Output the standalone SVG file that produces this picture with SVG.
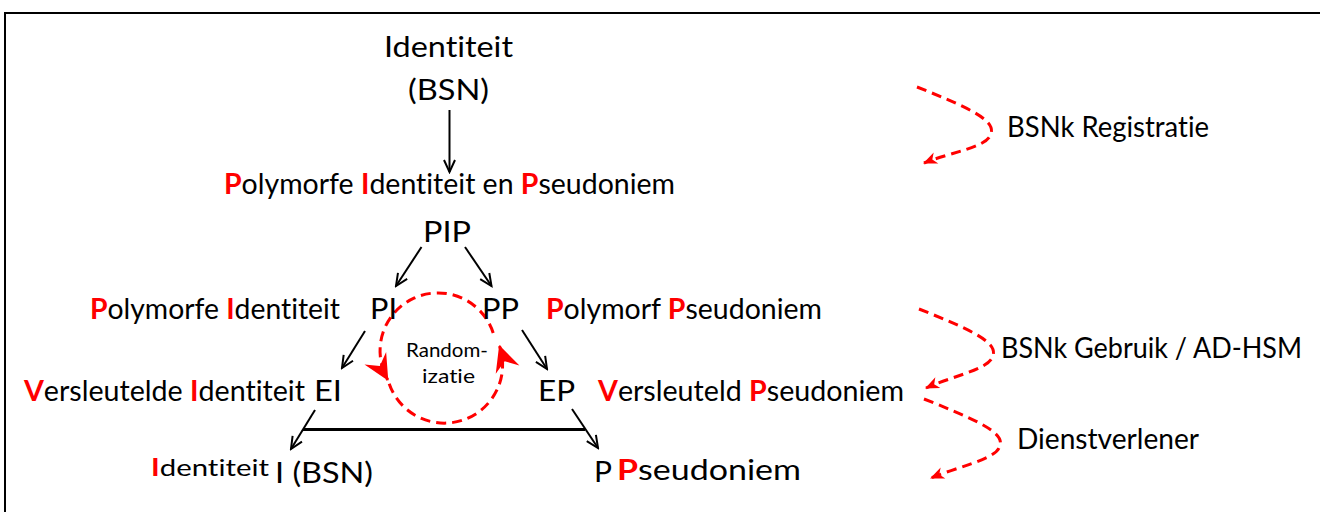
<svg xmlns="http://www.w3.org/2000/svg" width="1320" height="512" viewBox="0 0 1320 512">
<defs>
<style>
text{font-family:Lato,"Open Sans","Liberation Sans",sans-serif;fill:#000;font-size:28px;font-variant-ligatures:none;font-feature-settings:"liga" 0,"dlig" 0}
.r{fill:#FF0000;font-weight:bold}
.sm{font-size:24px}
.xs{font-size:19px}
.blk{stroke:#000;stroke-width:2;fill:none}
.red{stroke:#FF0000;stroke-width:3;fill:none;stroke-dasharray:10 6}
</style>
<marker id="ah" markerUnits="userSpaceOnUse" markerWidth="16" markerHeight="16" viewBox="-14 -8 16 16" refX="0" refY="0" orient="auto"><path d="M-12,-5.5 L0,0 L-12,5.5" fill="none" stroke="#000" stroke-width="2"/></marker>
<marker id="rs" markerUnits="userSpaceOnUse" markerWidth="16" markerHeight="16" viewBox="-14 -8 16 16" refX="0" refY="0" orient="auto"><path d="M1,0 L-13,-6 L-9,0 L-13,6 Z" fill="#FF0000"/></marker>
<marker id="rl" markerUnits="userSpaceOnUse" markerWidth="30" markerHeight="30" viewBox="-27 -15 30 30" refX="0" refY="0" orient="auto"><path d="M1,0 L-25,-12.5 L-16,0 L-25,12.5 Z" fill="#FF0000"/></marker>
</defs>
<rect width="1320" height="512" fill="#fff"/>
<path d="M5,512 L5,13 L1320,13" fill="none" stroke="#000" stroke-width="2"/>

<g id="connectors">
<line class="blk" x1="449.5" y1="110" x2="449.5" y2="172" marker-end="url(#ah)"/>
<line class="blk" x1="421.5" y1="247" x2="396" y2="286" marker-end="url(#ah)"/>
<line class="blk" x1="465" y1="247" x2="491.5" y2="286" marker-end="url(#ah)"/>
<line class="blk" x1="365" y1="331" x2="342" y2="368" marker-end="url(#ah)"/>
<line class="blk" x1="522" y1="330" x2="547" y2="369" marker-end="url(#ah)"/>
<line class="blk" x1="315" y1="410" x2="291" y2="449" marker-end="url(#ah)"/>
<line class="blk" x1="572" y1="409" x2="598" y2="448" marker-end="url(#ah)"/>
<line x1="303" y1="429.5" x2="585" y2="429.5" stroke="#000" stroke-width="3"/>
<path class="red" d="M493.2,333 A58,58 0 1 0 387.8,379.9" marker-end="url(#rl)"/>
<path class="red" d="M389.2,383.7 A58,58 0 0 0 499.5,346" marker-end="url(#rl)"/>
<path class="red" d="M917,87 C975,110 998,122 990,136 C984,148 948,153 924,163" marker-end="url(#rs)"/>
<path class="red" d="M919,309 C977,332 1000,344 992,358 C986,370 950,377 926,388" marker-end="url(#rs)"/>
<path class="red" d="M924,399 C982,422 1007,434 999,448 C993,460 957,467 931,478" marker-end="url(#rs)"/>
</g>

<g id="node-identiteit-bsn">
<text x="384" y="57" font-size="29" textLength="129" lengthAdjust="spacingAndGlyphs">Identiteit</text>
<text x="408" y="100" font-size="29" textLength="81" lengthAdjust="spacingAndGlyphs">(BSN)</text>
</g>
<g id="label-pip-full">
<text x="224" y="194" textLength="451" lengthAdjust="spacingAndGlyphs"><tspan class="r">P</tspan>olymorfe <tspan class="r">I</tspan>dentiteit en <tspan class="r">P</tspan>seudoniem</text>
</g>
<g id="node-pip"><text x="423" y="242" textLength="48" lengthAdjust="spacingAndGlyphs">PIP</text></g>
<g id="node-pi">
<text x="90" y="319" textLength="250" lengthAdjust="spacingAndGlyphs"><tspan class="r">P</tspan>olymorfe <tspan class="r">I</tspan>dentiteit</text>
<text x="370" y="319" textLength="27" lengthAdjust="spacingAndGlyphs">PI</text>
</g>
<g id="node-pp">
<text x="482" y="319" textLength="37" lengthAdjust="spacingAndGlyphs">PP</text>
<text x="546" y="319" textLength="276" lengthAdjust="spacingAndGlyphs"><tspan class="r">P</tspan>olymorf <tspan class="r">P</tspan>seudoniem</text>
</g>
<g id="node-randomizatie">
<text class="xs" x="406" y="357" textLength="82" lengthAdjust="spacingAndGlyphs">Random-</text>
<text class="xs" x="422" y="383" textLength="53" lengthAdjust="spacingAndGlyphs">izatie</text>
</g>
<g id="node-ei">
<text x="24" y="401" textLength="281" lengthAdjust="spacingAndGlyphs"><tspan class="r">V</tspan>ersleutelde <tspan class="r">I</tspan>dentiteit</text>
<text x="314" y="401" textLength="28" lengthAdjust="spacingAndGlyphs">EI</text>
</g>
<g id="node-ep">
<text x="538" y="401" textLength="37" lengthAdjust="spacingAndGlyphs">EP</text>
<text x="598" y="401" textLength="306" lengthAdjust="spacingAndGlyphs"><tspan class="r">V</tspan>ersleuteld <tspan class="r">P</tspan>seudoniem</text>
</g>
<g id="node-i">
<text class="sm" x="151" y="476" textLength="118" lengthAdjust="spacingAndGlyphs"><tspan class="r">I</tspan>dentiteit</text>
<text x="275" y="483" textLength="98" lengthAdjust="spacingAndGlyphs">I (BSN)</text>
</g>
<g id="node-p">
<text x="594" y="482" textLength="18" lengthAdjust="spacingAndGlyphs">P</text>
<text x="617" y="480" textLength="184" lengthAdjust="spacingAndGlyphs"><tspan class="r">P</tspan>seudoniem</text>
</g>
<g id="label-registratie"><text x="1007" y="137" textLength="202" lengthAdjust="spacingAndGlyphs">BSNk Registratie</text></g>
<g id="label-gebruik"><text x="1001" y="358" textLength="301" lengthAdjust="spacingAndGlyphs">BSNk Gebruik / AD-HSM</text></g>
<g id="label-dienstverlener"><text x="1017" y="449" textLength="182" lengthAdjust="spacingAndGlyphs">Dienstverlener</text></g>
</svg>
